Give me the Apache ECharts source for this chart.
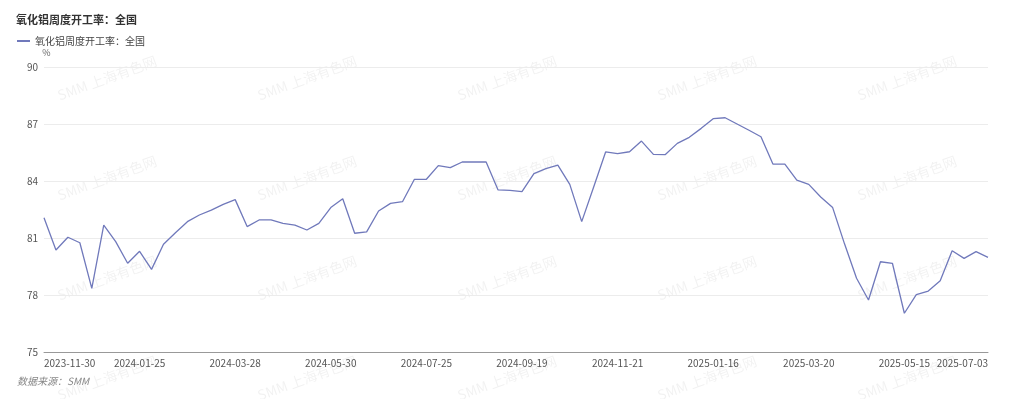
<!DOCTYPE html>
<html>
<head>
<meta charset="utf-8">
<script src="https://cdn.jsdelivr.net/npm/echarts@6/dist/echarts.min.js"></script>
<style>
html, body { margin: 0; padding: 0; background: #fff; }
#chart { width: 1024px; height: 399px; }
</style>
</head>
<body>
<div id="chart"></div>
<script>
// 周度日期（节假日周缺失）
let dates = [
    '2023-11-30', '2023-12-07', '2023-12-14', '2023-12-21', '2023-12-28',
    '2024-01-04', '2024-01-11', '2024-01-18', '2024-01-25', '2024-02-01', '2024-02-08',
    '2024-02-22', '2024-02-29', '2024-03-07', '2024-03-14', '2024-03-21', '2024-03-28',
    '2024-04-04', '2024-04-11', '2024-04-18', '2024-04-25',
    '2024-05-09', '2024-05-16', '2024-05-23', '2024-05-30',
    '2024-06-06', '2024-06-13', '2024-06-20', '2024-06-27',
    '2024-07-04', '2024-07-11', '2024-07-18', '2024-07-25',
    '2024-08-01', '2024-08-08', '2024-08-15', '2024-08-22', '2024-08-29',
    '2024-09-05', '2024-09-12', '2024-09-19', '2024-09-26',
    '2024-10-10', '2024-10-17', '2024-10-24', '2024-10-31',
    '2024-11-07', '2024-11-14', '2024-11-21', '2024-11-28',
    '2024-12-05', '2024-12-12', '2024-12-19', '2024-12-26',
    '2025-01-02', '2025-01-09', '2025-01-16', '2025-01-23',
    '2025-02-06', '2025-02-13', '2025-02-20', '2025-02-27',
    '2025-03-06', '2025-03-13', '2025-03-20', '2025-03-27',
    '2025-04-03', '2025-04-10', '2025-04-17', '2025-04-24',
    '2025-05-01', '2025-05-08', '2025-05-15', '2025-05-22', '2025-05-29',
    '2025-06-05', '2025-06-12', '2025-06-19', '2025-06-26', '2025-07-03'
];

// 氧化铝周度开工率：全国 (%)
let rates = [
    82.07, 80.37, 81.04, 80.75, 78.35, 81.68, 80.81, 79.67, 80.30, 79.35,
    80.67, 81.28, 81.86, 82.21, 82.47, 82.77, 83.02, 81.60, 81.95, 81.95,
    81.77, 81.68, 81.42, 81.77, 82.60, 83.07, 81.25, 81.32, 82.42, 82.82,
    82.91, 84.09, 84.09, 84.81, 84.70, 85.00, 85.00, 85.00, 83.53, 83.51,
    83.44, 84.39, 84.65, 84.84, 83.82, 81.86, 83.68, 85.53, 85.44, 85.54,
    86.10, 85.40, 85.39, 85.98, 86.30, 86.77, 87.28, 87.33, 87.00, 86.67,
    86.33, 84.89, 84.89, 84.05, 83.82, 83.16, 82.60, 80.68, 78.88, 77.74,
    79.75, 79.67, 77.04, 78.02, 78.21, 78.75, 80.33, 79.93, 80.28, 79.98
];

let seriesName = '氧化铝周度开工率：全国';
let sourceText = '数据来源：SMM';
let watermarkText = 'SMM 上海有色网';

let font = "'Noto Sans CJK SC', 'Noto Sans', sans-serif";

// 水印
let marks = [];
[78, 178, 278, 378].forEach((y) => {
    [107, 307, 507, 707, 907].forEach((x) => {
        marks.push({
            type: 'text',
            x: x,
            y: y,
            rotation: 20 * Math.PI / 180,
            silent: true,
            z: 0,
            style: {
                text: watermarkText,
                fontSize: 14,
                fontFamily: font,
                fill: 'rgba(0,0,0,0.055)',
                align: 'center',
                verticalAlign: 'middle'
            }
        });
    });
});
marks.push({
    type: 'text',
    left: 17,
    top: 376,
    style: {
        text: sourceText,
        fontSize: 10,
        fontStyle: 'italic',
        fontFamily: font,
        fill: '#888'
    }
});

let mychart = echarts.init(document.getElementById('chart'));
let option = {
    animation: false,
    textStyle: { fontFamily: font },
    title: {
        text: seriesName,
        left: 11,
        top: 9,
        textStyle: { fontSize: 11, fontWeight: 'bold', color: '#333' }
    },
    legend: {
        left: 12,
        top: 31,
        icon: 'rect',
        itemWidth: 13,
        itemHeight: 2,
        itemGap: 6,
        textStyle: { fontSize: 10, color: '#444' },
        data: [seriesName]
    },
    graphic: marks,
    grid: {
        left: 44,
        right: 36,
        top: 67,
        bottom: 47
    },
    xAxis: {
        type: 'category',
        boundaryGap: false,
        data: dates,
        axisLine: { lineStyle: { color: '#999' } },
        axisTick: { show: false },
        axisLabel: {
            interval: 7,
            showMaxLabel: true,
            alignMinLabel: 'left',
            alignMaxLabel: 'right',
            fontSize: 10,
            color: '#555',
            margin: 6
        }
    },
    yAxis: {
        type: 'value',
        name: '%',
        nameTextStyle: { fontSize: 9, color: '#666', padding: [0, 0, 0, 5] },
        nameGap: 10,
        min: 75,
        max: 90,
        interval: 3,
        axisLine: { show: false },
        axisTick: { show: false },
        axisLabel: { fontSize: 10, color: '#555', margin: 6 },
        splitLine: { lineStyle: { color: '#ececec' } }
    },
    series: [
        {
            name: seriesName,
            type: 'line',
            data: rates,
            showSymbol: false,
            symbol: 'none',
            lineStyle: { width: 1.3, color: '#7079bb' },
            itemStyle: { color: '#7079bb' }
        }
    ]
};
mychart.setOption(option);
</script>
</body>
</html>
